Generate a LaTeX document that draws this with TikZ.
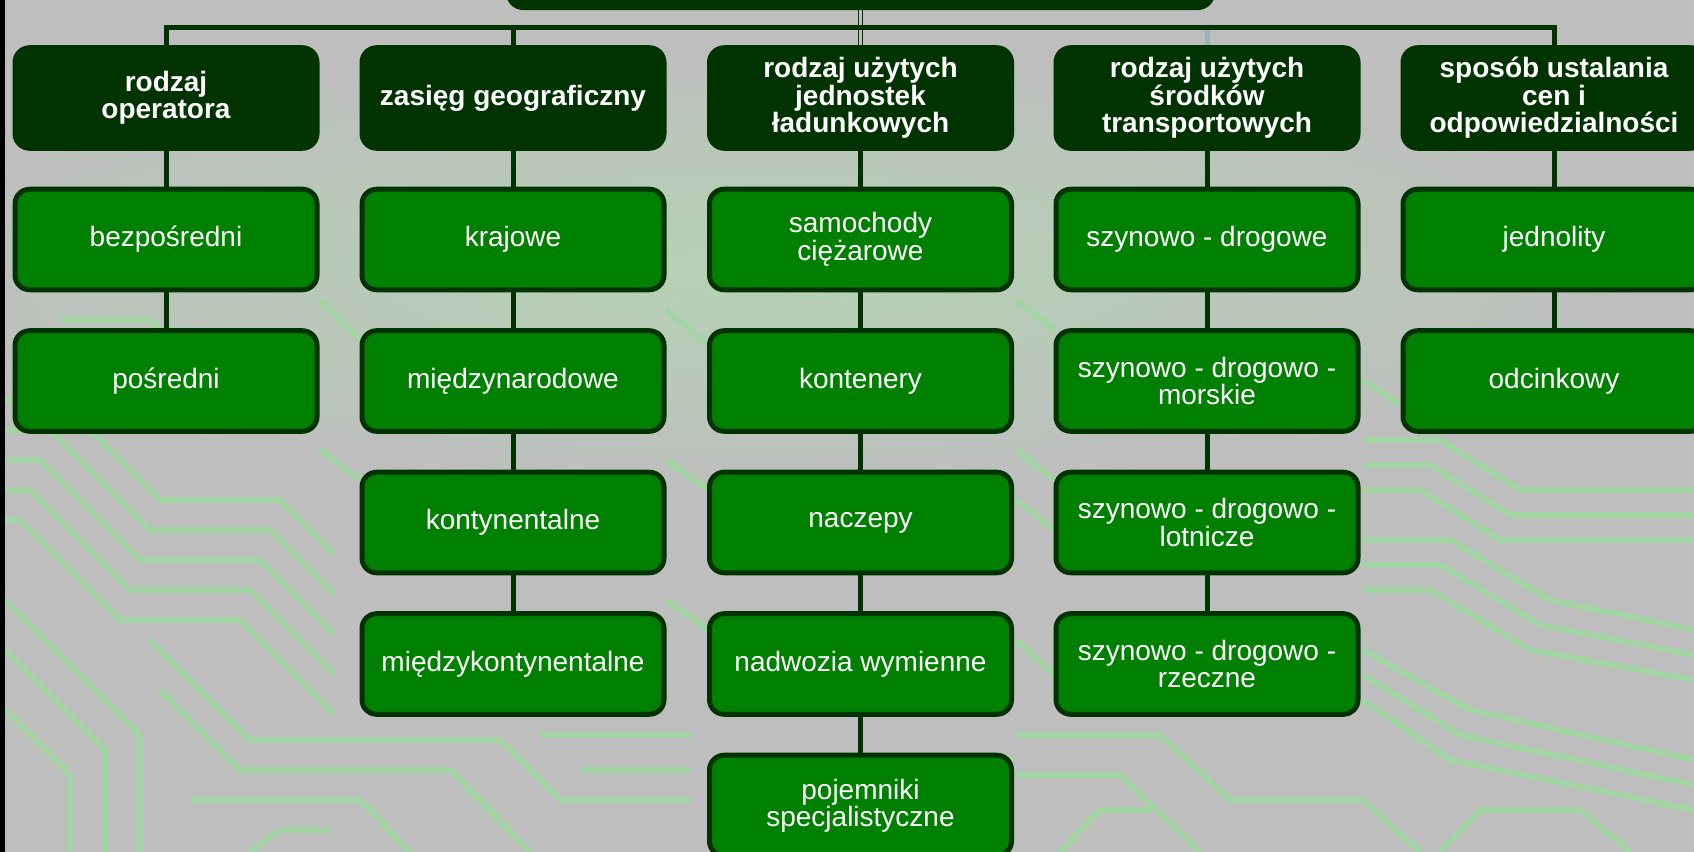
\documentclass[tikz,border=0pt]{standalone}
\usepackage{fontspec}
\setmainfont{Liberation Sans}

\definecolor{boxdark}{RGB}{0,51,0}
\definecolor{boxgreen}{RGB}{0,128,0}
\definecolor{boardgray}{RGB}{190,190,190}
\definecolor{tracegreen}{RGB}{163,212,163}
\definecolor{glowgreen}{RGB}{180,210,180}
\definecolor{palestem}{RGB}{150,182,188}

\tikzset{
  head/.style={draw=boxdark, fill=boxdark, line width=3.75pt, rounded corners=11pt,
    minimum width=226.5pt, minimum height=75.4pt, inner sep=0pt, align=center,
    text=white, font=\fontsize{21}{20.6}\selectfont\bfseries},
  leaf/.style={head, fill=boxgreen, font=\fontsize{21}{20.6}\selectfont},
  link/.style={draw=boxdark, line width=3.75pt},
  pcbline/.style={draw=tracegreen, line width=4.5pt, line join=round}
}

\begin{document}
\begin{tikzpicture}[x=0.75pt,y=0.75pt,yscale=-1,xscale=1]
\useasboundingbox (0,0) rectangle (1694,852);
\clip (0,0) rectangle (1694,852);

% board background
\fill[boardgray] (0,0) rectangle (1694,852);
\shade[inner color=glowgreen, outer color=boardgray] (760,270) ellipse [x radius=900, y radius=220];

% circuit traces, left side
\draw[pcbline] (5,400) -- (60,400) -- (160,500) -- (280,500) -- (335,555);
\draw[pcbline] (5,430) -- (50,430) -- (150,530) -- (270,530) -- (335,595);
\draw[pcbline] (5,460) -- (40,460) -- (140,560) -- (260,560) -- (335,635);
\draw[pcbline] (5,490) -- (30,490) -- (130,590) -- (250,590) -- (335,675);
\draw[pcbline] (5,520) -- (20,520) -- (120,620) -- (240,620) -- (335,715);
\draw[pcbline] (5,600) -- (140,735) -- (140,852);
\draw[pcbline] (5,650) -- (105,750) -- (105,852);
\draw[pcbline] (5,710) -- (70,775) -- (70,852);
\draw[pcbline] (150,640) -- (250,740) -- (500,740) -- (560,800) -- (690,800);
\draw[pcbline] (160,690) -- (240,770) -- (450,770) -- (530,852);
\draw[pcbline] (190,800) -- (360,800) -- (410,852);
\draw[pcbline] (540,735) -- (690,735);
\draw[pcbline] (580,770) -- (690,770);
\draw[pcbline] (250,852) -- (280,830) -- (330,830);
\draw[pcbline] (60,320) -- (150,320) -- (200,370);
\draw[pcbline] (320,300) -- (360,340);
\draw[pcbline] (320,450) -- (360,480);
% circuit traces, middle gaps
\draw[pcbline] (666,310) -- (708,345);
\draw[pcbline] (666,460) -- (708,490);
\draw[pcbline] (666,600) -- (708,630);
\draw[pcbline] (1016,300) -- (1054,330);
\draw[pcbline] (1016,450) -- (1054,480);
\draw[pcbline] (1016,500) -- (1054,530);
\draw[pcbline] (1016,640) -- (1054,675);
\draw[pcbline] (1016,735) -- (1160,735) -- (1230,800) -- (1363,800) -- (1420,852);
\draw[pcbline] (1016,775) -- (1120,775) -- (1200,852);
\draw[pcbline] (1060,852) -- (1100,810) -- (1150,810);
\draw[pcbline] (1363,380) -- (1400,405);
% circuit traces, right side
\draw[pcbline] (1363,440) -- (1440,440) -- (1520,490) -- (1694,490);
\draw[pcbline] (1363,465) -- (1430,465) -- (1510,515) -- (1694,515);
\draw[pcbline] (1363,490) -- (1420,490) -- (1500,540) -- (1694,540);
\draw[pcbline] (1363,540) -- (1450,540) -- (1550,600) -- (1694,630);
\draw[pcbline] (1363,565) -- (1440,565) -- (1540,625) -- (1694,655);
\draw[pcbline] (1363,590) -- (1430,590) -- (1530,650) -- (1694,680);
\draw[pcbline] (1363,650) -- (1470,710) -- (1694,760);
\draw[pcbline] (1363,675) -- (1460,735) -- (1694,785);
\draw[pcbline] (1363,700) -- (1450,760) -- (1694,810);
\draw[pcbline] (1440,852) -- (1480,810) -- (1580,810) -- (1630,852);

% left edge
\fill[black] (0,0) rectangle (5,852);

% coordinates
\coordinate (bus) at (0,27.5);

% top box
\node[head, minimum width=528pt] (root) at (860.5,-42.75) {};

% headers
\node[head] (hop) at (166,98) {rodzaj\\operatora};
\node[head] (hgeo) at (513,98) {zasięg geograficzny};
\node[head] (hjed) at (860.5,98) {rodzaj użytych\\jednostek\\ładunkowych};
\node[head] (htra) at (1207,98) {rodzaj użytych\\środków\\transportowych};
\node[head] (hcen) at (1554,98) {sposób ustalania\\cen i\\odpowiedzialności};

% rodzaj operatora
\node[leaf] (op1) at (166,239.5) {bezpośredni};
\node[leaf] (op2) at (166,381) {pośredni};

% zasieg geograficzny
\node[leaf] (geo1) at (513,239.5) {krajowe};
\node[leaf] (geo2) at (513,381) {międzynarodowe};
\node[leaf] (geo3) at (513,522.5) {kontynentalne};
\node[leaf] (geo4) at (513,664) {międzykontynentalne};

% jednostki ladunkowe
\node[leaf] (jed1) at (860.5,239.5) {samochody\\ciężarowe};
\node[leaf] (jed2) at (860.5,381) {kontenery};
\node[leaf] (jed3) at (860.5,522.5) {naczepy};
\node[leaf] (jed4) at (860.5,664) {nadwozia wymienne};
\node[leaf] (jed5) at (860.5,805.5) {pojemniki\\specjalistyczne};

% srodki transportowe
\node[leaf] (tra1) at (1207,239.5) {szynowo - drogowe};
\node[leaf] (tra2) at (1207,381) {szynowo - drogowo -\\morskie};
\node[leaf] (tra3) at (1207,522.5) {szynowo - drogowo -\\lotnicze};
\node[leaf] (tra4) at (1207,664) {szynowo - drogowo -\\rzeczne};

% ceny i odpowiedzialnosc
\node[leaf] (cen1) at (1554,239.5) {jednolity};
\node[leaf] (cen2) at (1554,381) {odcinkowy};

% stems to the bus
\draw[link] (hgeo.north) -- (hgeo.north |- bus);
\draw[link, draw=palestem] (htra.north) -- (htra.north |- bus);
\draw[draw=boxdark, line width=0.9pt, double=boardgray, double distance=2pt] (root.south) -- (hjed.north);
\draw[link] (hop.north) -- (hop.north |- bus) -- (hcen.north |- bus) -- (hcen.north);

% columns
\draw[link] (hop.south) -- (op1.north);
\draw[link] (op1.south) -- (op2.north);
\draw[link] (hgeo.south) -- (geo1.north);
\draw[link] (geo1.south) -- (geo2.north);
\draw[link] (geo2.south) -- (geo3.north);
\draw[link] (geo3.south) -- (geo4.north);
\draw[link] (hjed.south) -- (jed1.north);
\draw[link] (jed1.south) -- (jed2.north);
\draw[link] (jed2.south) -- (jed3.north);
\draw[link] (jed3.south) -- (jed4.north);
\draw[link] (jed4.south) -- (jed5.north);
\draw[link] (htra.south) -- (tra1.north);
\draw[link] (tra1.south) -- (tra2.north);
\draw[link] (tra2.south) -- (tra3.north);
\draw[link] (tra3.south) -- (tra4.north);
\draw[link] (hcen.south) -- (cen1.north);
\draw[link] (cen1.south) -- (cen2.north);

\end{tikzpicture}
\end{document}
